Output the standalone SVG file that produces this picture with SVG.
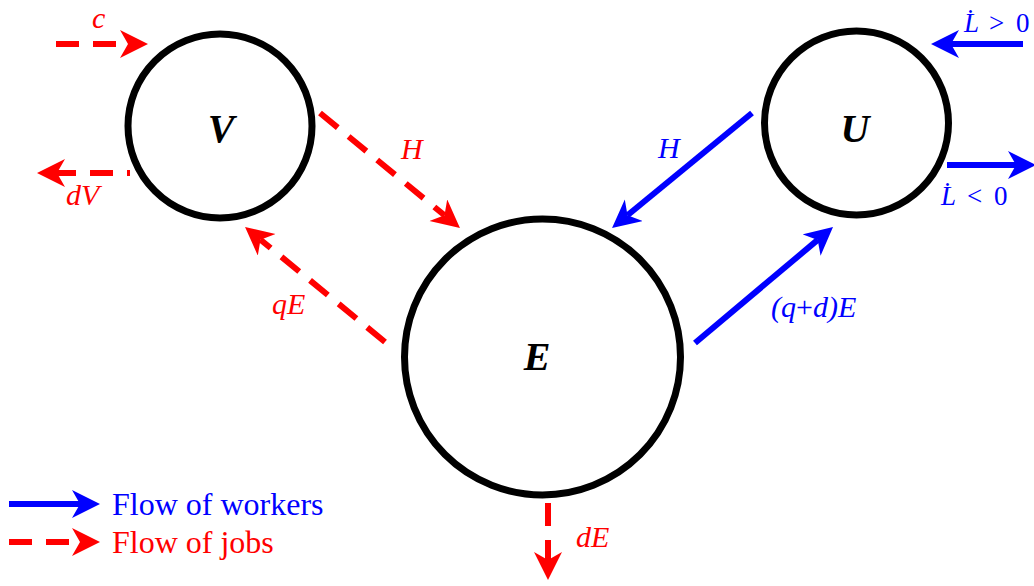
<svg xmlns="http://www.w3.org/2000/svg" width="1034" height="586" viewBox="0 0 1034 586">
<defs>
<marker id="ar" markerUnits="userSpaceOnUse" markerWidth="30" markerHeight="30" refX="8" refY="14" orient="auto">
<path d="M28,14 L0,0 L8,14 L0,28 Z" fill="#ff0000"/>
</marker>
<marker id="ab" markerUnits="userSpaceOnUse" markerWidth="30" markerHeight="30" refX="8" refY="14" orient="auto">
<path d="M28,14 L0,0 L8,14 L0,28 Z" fill="#0000ff"/>
</marker>
</defs>
<g id="connectors">
<g stroke="#ff0000" stroke-width="6" fill="none" stroke-dasharray="23 14" marker-end="url(#ar)">
<line x1="56" y1="44" x2="128" y2="44"/>
<line x1="130" y1="173" x2="57" y2="173" stroke-dashoffset="20"/>
<line x1="320" y1="113" x2="444.5" y2="215.3"/>
<line x1="385" y1="342" x2="260.5" y2="239.7"/>
<line x1="548" y1="503" x2="548" y2="560"/>
</g>
<g stroke="#0000ff" stroke-width="6" fill="none" marker-end="url(#ab)">
<line x1="752" y1="113" x2="627.5" y2="215.3"/>
<line x1="695" y1="343" x2="817.7" y2="239.9"/>
<line x1="1023" y1="44" x2="951" y2="44"/>
<line x1="947" y1="165" x2="1016" y2="165"/>
</g>
<text x="92" y="28" font-family="Times New Roman" font-style="italic" font-size="30" fill="#ff0000">c</text>
<text x="66" y="205" font-family="Times New Roman" font-style="italic" font-size="30" fill="#ff0000">dV</text>
<text x="401" y="159" font-family="Times New Roman" font-style="italic" font-size="30" fill="#ff0000">H</text>
<text x="272" y="314" font-family="Times New Roman" font-style="italic" font-size="30" fill="#ff0000">qE</text>
<text x="576" y="547" font-family="Times New Roman" font-style="italic" font-size="30" fill="#ff0000">dE</text>
<text x="658" y="158" font-family="Times New Roman" font-style="italic" font-size="30" fill="#0000ff">H</text>
<text x="771" y="317" font-family="Times New Roman" font-style="italic" font-size="30" fill="#0000ff">(q<tspan font-style="normal">+</tspan>d)E</text>
<text x="964" y="32" font-family="Times New Roman" font-style="italic" font-size="27" fill="#0000ff">L&#x307;<tspan font-style="normal" x="989">&gt;</tspan><tspan font-style="normal" x="1016">0</tspan></text>
<text x="941" y="205" font-family="Times New Roman" font-style="italic" font-size="27" fill="#0000ff">L&#x307;<tspan font-style="normal" x="967">&lt;</tspan><tspan font-style="normal" x="994">0</tspan></text>
</g>
<g id="node-V">
<circle cx="220" cy="126" r="92" fill="#fff" stroke="#000" stroke-width="7"/>
<text x="221" y="142" fill="#000" font-family="Times New Roman" font-weight="bold" font-style="italic" font-size="40" text-anchor="middle">V</text>
</g>
<g id="node-U">
<circle cx="856.5" cy="123" r="92" fill="#fff" stroke="#000" stroke-width="7"/>
<text x="855" y="142" fill="#000" font-family="Times New Roman" font-weight="bold" font-style="italic" font-size="40" text-anchor="middle">U</text>
</g>
<g id="node-E">
<circle cx="542.5" cy="357" r="138" fill="#fff" stroke="#000" stroke-width="7"/>
<text x="537" y="370" fill="#000" font-family="Times New Roman" font-weight="bold" font-style="italic" font-size="40" text-anchor="middle">E</text>
</g>
<g id="legend">
<line x1="9" y1="504" x2="80" y2="504" stroke="#0000ff" stroke-width="6" marker-end="url(#ab)"/>
<text x="112" y="515" fill="#0000ff" font-family="Times New Roman" font-size="32">Flow of workers</text>
<line x1="9" y1="542" x2="80" y2="542" stroke="#ff0000" stroke-width="6" stroke-dasharray="23 14" marker-end="url(#ar)"/>
<text x="112" y="553" fill="#ff0000" font-family="Times New Roman" font-size="32">Flow of jobs</text>
</g>
</svg>
